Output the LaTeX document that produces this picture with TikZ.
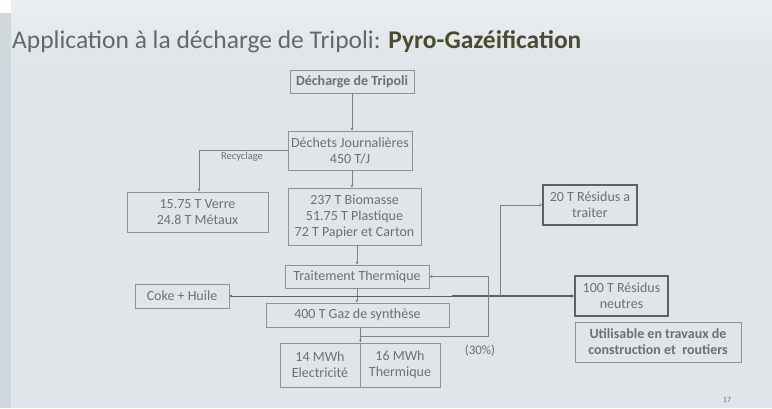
\documentclass[tikz,border=0pt]{standalone}
\usepackage{fontspec}
\setmainfont{Carlito}
\usetikzlibrary{arrows.meta}
\definecolor{slidebg}{HTML}{DFE5E8}
\definecolor{slidetop}{HTML}{ECEFF0}
\definecolor{edgestrip}{HTML}{D0D7DD}
\definecolor{boxline}{HTML}{8E9294}
\definecolor{boxdark}{HTML}{5E6163}
\definecolor{boxtext}{HTML}{6E7072}
\definecolor{titlegray}{HTML}{62686B}
\definecolor{titleolive}{HTML}{4C4A30}
\definecolor{wireline}{HTML}{7E8284}
\begin{document}
\begin{tikzpicture}[x=1pt,y=-1pt,
  box/.style={draw=boxline, line width=0.9pt, inner sep=0pt, align=center,
    text=boxtext, font=\fontsize{14}{16}\selectfont},
  boldbox/.style={box, font=\fontsize{14}{16}\selectfont\bfseries},
  heavybox/.style={box, draw=boxdark, line width=1.6pt},
  wire/.style={draw=wireline, line width=0.8pt},
  flow/.style={wire, -{Stealth[length=3pt,width=3pt]}},
  mainflow/.style={draw=boxdark, line width=1.4pt, -{Stealth[length=3.5pt,width=3.5pt]}},
  note/.style={text=boxtext, inner sep=0pt}
]
% slide background and photo edges
\shade[top color=slidetop, bottom color=slidebg] (0,0) rectangle (772,60);
\fill[slidebg] (0,60) rectangle (772,408);
\fill[edgestrip] (0,13) rectangle (11,408);
\fill[white] (0,0) rectangle (11,13);
\useasboundingbox (0,0) rectangle (772,408);

% title
\node[anchor=base west, inner sep=0pt, font=\fontsize{25.5}{28}\selectfont]
  (title) at (12,48)
  {\textcolor{titlegray}{Application à la décharge de Tripoli:} \textcolor{titleolive}{\bfseries Pyro-Gazéification}};

% boxes
\node[boldbox, minimum width=124pt, minimum height=23pt] (dech) at (352,81.5) {Décharge de Tripoli};
\node[box, minimum width=124pt, minimum height=39pt] (jour) at (350,150.5) {Déchets Journalières\\450 T/J};
\node[box, minimum width=141pt, minimum height=40pt] (verre) at (197.5,212) {15.75 T Verre\\24.8 T Métaux};
\node[box, minimum width=133pt, minimum height=57pt] (bio) at (354.5,216.5) {237 T Biomasse\\51.75 T Plastique\\72 T Papier et Carton};
\node[heavybox, minimum width=94pt, minimum height=40pt] (res20) at (590,205) {20 T Résidus a\\traiter};
\node[box, minimum width=144pt, minimum height=23pt] (trait) at (357,276.5) {Traitement Thermique};
\node[box, minimum width=94pt, minimum height=24pt] (coke) at (182,296) {Coke + Huile};
\node[box, minimum width=183pt, minimum height=24pt] (gaz) at (357.5,315) {400 T Gaz de synthèse};
\node[box, minimum width=80pt, minimum height=44pt] (elec) at (320,365) {14 MWh\\Electricité};
\node[box, minimum width=80pt, minimum height=44pt] (therm) at (400,365) {16 MWh\\Thermique};
\node[heavybox, minimum width=93pt, minimum height=40pt] (res100) at (621.5,296) {100 T Résidus\\neutres};
\node[boldbox, minimum width=166pt, minimum height=40pt] (util) at (658,342) {Utilisable en travaux de\\construction et\ \ routiers};

% labels
\node[note, font=\fontsize{10.5}{12}\selectfont] (recy) at (242,157) {Recyclage};
\node[note, font=\fontsize{13}{15}\selectfont] (pct) at (480,351) {(30\%)};
\node[note, font=\fontsize{8}{9}\selectfont] (pagenum) at (727,400) {17};

% junction points
\coordinate (recyCorner) at (199,150.5);
\coordinate (mainJoin) at (452,296);
\coordinate (splitUp) at (500,296);
\coordinate (loopStart) at (360,336);
\coordinate (loopLow) at (488,336);
\coordinate (loopHigh) at (488,276.5);

% connectors
\draw[flow] (dech.south) -- (dech.south |- jour.north);
\draw[flow] (jour.south -| dech.south) -- (bio.north -| dech.south);
\draw[flow] (jour.west) -- (recyCorner) -- (recyCorner |- verre.north);
\draw[flow] (bio.south -| trait.north) -- (trait.north);
\draw[flow] (trait.south) -- (trait.south |- gaz.north);
\draw[flow] (gaz.south -| elec.east) -- (elec.north east);
\draw[flow, draw=boxdark, line width=1pt] (mainJoin) -- (coke.east);
\draw[mainflow] (mainJoin) -- (res100.west);
\draw[flow] (splitUp) -- (splitUp |- res20.west) -- (res20.west);
\draw[flow] (loopStart) -- (loopLow) -- (loopHigh) -- (trait.east);
\end{tikzpicture}
\end{document}
